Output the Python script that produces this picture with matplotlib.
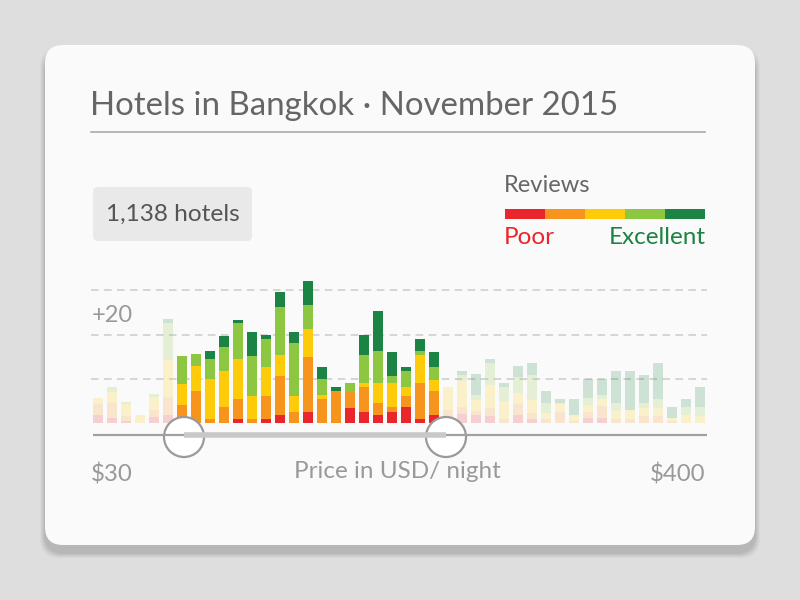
import matplotlib
matplotlib.use('Agg')
import matplotlib.pyplot as plt
from matplotlib.patches import FancyBboxPatch, Circle, Rectangle
import numpy as np

# ── Datos: hoteles por tramo de precio, apilados por nota de reviews ──
poor      = [1.8, 1.1, 0.5, 0.0, 1.4, 1.8, 0.0, 0.0, 0.0, 0.0, 0.9, 0.0, 0.8, 1.7, 0.0,
             2.6, 0.0, 0.0, 3.5, 2.6, 1.7, 2.6, 3.6, 0.8, 1.7, 1.0, 2.0, 1.8, 1.5, 0.0,
             1.8, 0.8, 0.0, 0.0, 0.0, 1.1, 1.1, 0.0, 0.0, 0.0, 0.0, 0.0, 0.0, 0.0]
fair      = [2.5, 3.4, 1.0, 0.0, 1.5, 4.0, 4.1, 7.2, 0.8, 3.6, 4.5, 0.8, 5.4, 9.0, 2.6,
             12.3, 5.4, 7.2, 3.6, 5.5, 2.8, 1.0, 2.6, 8.2, 5.5, 2.0, 1.7, 1.0, 1.8, 1.0,
             2.5, 1.5, 0.8, 2.5, 0.5, 1.5, 2.8, 0.8, 0.8, 1.5, 1.5, 0.5, 0.0, 0.0]
good      = [1.3, 2.6, 2.8, 1.8, 2.9, 8.5, 4.8, 5.6, 9.2, 8.1, 9.1, 5.4, 6.4, 4.7, 3.6,
             6.4, 0.9, 0.0, 0.0, 0.9, 4.5, 5.4, 1.9, 6.3, 2.6, 5.2, 5.7, 2.4, 5.2, 4.0,
             2.4, 2.8, 1.5, 1.8, 1.3, 1.5, 1.5, 2.0, 2.1, 2.0, 1.8, 0.6, 1.7, 1.5]
very_good = [0.0, 1.0, 0.5, 0.0, 0.8, 8.3, 6.2, 2.7, 4.5, 5.4, 8.1, 9.0, 6.3, 10.8, 11.8,
             5.4, 3.6, 0.0, 1.9, 6.3, 7.2, 1.7, 3.6, 0.9, 2.8, 0.0, 1.5, 1.1, 5.0, 3.2,
             3.8, 5.7, 2.3, 0.3, 0.0, 1.5, 1.0, 1.8, 0.0, 1.1, 2.1, 0.0, 2.0, 2.2]
excellent = [0.0, 0.0, 0.0, 0.0, 0.0, 0.9, 0.0, 0.0, 1.7, 2.6, 0.8, 5.4, 0.9, 3.5, 2.6,
             5.4, 2.7, 0.9, 0.0, 4.5, 9.1, 5.4, 0.9, 2.7, 3.5, 0.0, 0.9, 4.7, 1.0, 0.9,
             2.3, 2.8, 2.7, 0.8, 3.6, 4.4, 3.6, 7.2, 8.8, 6.3, 8.2, 2.6, 1.7, 4.5]
series = [poor, fair, good, very_good, excellent]

sel_lo, sel_hi = 6, 24          # tramo seleccionado por el slider (incluido)
grid_vals = [10, 20, 30]

# ── Colores ───────────────────────────────────────────────────────────
REVIEW_COLORS = ['#E8262B', '#F7941E', '#FDCB0A', '#8DC641', '#1B8343']
PAGE_BG  = '#DEDEDE'
CARD_BG  = '#FAFAFA'
TXT      = '#666666'
TXT_SOFT = '#999999'
FADE     = 0.2

plt.rcParams['font.family'] = ['Lato', 'DejaVu Sans']

fig = plt.figure(figsize=(8, 6), dpi=100, facecolor=PAGE_BG)

# ── Tarjeta (coordenadas en pixeles) ─────────────────────────────────
bg = fig.add_axes([0, 0, 1, 1])
bg.set_xlim(0, 800)
bg.set_ylim(600, 0)
bg.axis('off')
for i, a in enumerate([0.025, 0.03, 0.035, 0.04, 0.05]):
    grow = 10 - 2 * i
    bg.add_patch(FancyBboxPatch((45 - grow / 2, 45 + 8 - grow / 2), 710 + grow, 500 + grow,
                                boxstyle='round,pad=0,rounding_size=20',
                                fc='black', ec='none', alpha=a))
bg.add_patch(FancyBboxPatch((45, 45), 710, 500, boxstyle='round,pad=0,rounding_size=18',
                            fc=CARD_BG, ec='none'))

bg.text(90, 106, 'Hotels in Bangkok · November 2015', fontsize=23.8, color=TXT,
        va='center', ha='left')
bg.plot([91, 705], [132, 132], color='#AAAAAA', lw=1.2)

bg.add_patch(FancyBboxPatch((93, 187), 159, 54, boxstyle='round,pad=0,rounding_size=5',
                            fc='#E9E9E9', ec='none'))
bg.text(173, 214, '1,138 hotels', fontsize=17.6, color='#555555', ha='center', va='center')

# leyenda Reviews
bg.text(504, 185, 'Reviews', fontsize=17, color=TXT, ha='left', va='center')
for i, c in enumerate(REVIEW_COLORS):
    bg.add_patch(Rectangle((505 + 40 * i, 209), 40, 9.5, fc=c, ec='none'))
bg.text(504, 238, 'Poor', fontsize=17.5, color=REVIEW_COLORS[0], ha='left', va='center')
bg.text(706, 238, 'Excellent', fontsize=17.5, color=REVIEW_COLORS[4], ha='right', va='center')

bg.text(92, 316, '+20', fontsize=17, color=TXT_SOFT, ha='left', va='center')

bg.text(91, 474, '$30', fontsize=17.3, color=TXT_SOFT, ha='left', va='center')
bg.text(397, 472, 'Price in USD/ night', fontsize=17.5, color=TXT_SOFT, ha='center', va='center')
bg.text(705, 474, '$400', fontsize=17.3, color=TXT_SOFT, ha='right', va='center')

# ── Barras apiladas ───────────────────────────────────────────────────
PX = 4.42  # pixeles por hotel
ax = fig.add_axes([91 / 800, (600 - 423) / 600, 616 / 800, 153 / 600])
ax.set_xlim(-0.5, 43.5)
ax.set_ylim(0, 153 / PX)
ax.axis('off')
ax.patch.set_alpha(0)

for g in grid_vals:
    ax.axhline(g, color='#CCCCCC', lw=1.1, ls=(0, (5, 3.5)), zorder=0)

x = np.arange(len(poor))
alphas = np.where((x >= sel_lo) & (x <= sel_hi), 1.0, FADE)
bottom = np.zeros(len(x))
for vals, col in zip(series, REVIEW_COLORS):
    vals = np.array(vals)
    for xi, v, b, a in zip(x, vals, bottom, alphas):
        if v > 0:
            ax.bar(xi, v, bottom=b, width=0.72, color=col, alpha=a, lw=0, zorder=2)
    bottom += vals

# ── Slider ────────────────────────────────────────────────────────────
ov = fig.add_axes([0, 0, 1, 1])
ov.set_xlim(0, 800)
ov.set_ylim(600, 0)
ov.axis('off')
ov.patch.set_alpha(0)
ov.plot([93, 707], [435, 435], color='#A0A0A0', lw=1.6, solid_capstyle='butt')
ov.plot([184, 446], [435, 435], color='#C8C8C8', lw=4, solid_capstyle='butt')
for hx in (184, 446):
    ov.add_patch(Circle((hx, 437), 20, fc='white', ec='#9A9A9A', lw=1.6))

fig.savefig('out.png', dpi=100, facecolor=PAGE_BG)
